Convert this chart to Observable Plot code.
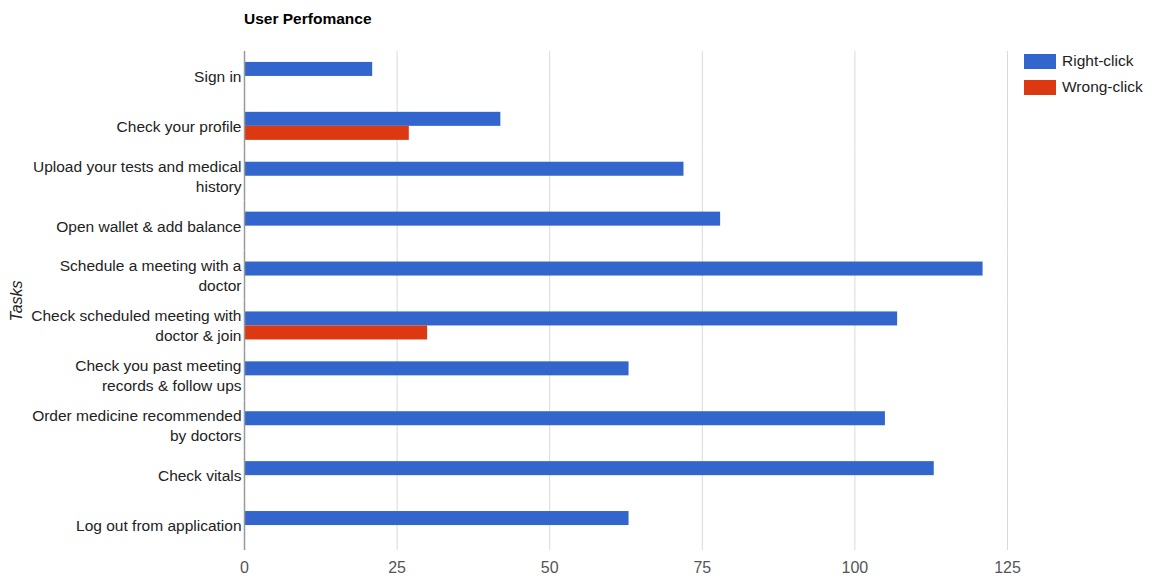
<!DOCTYPE html>
<html><head><meta charset="utf-8">
<script src="https://cdn.jsdelivr.net/npm/d3@7"></script>
<script src="https://cdn.jsdelivr.net/npm/@observablehq/plot@0.6"></script>
<style>
body{margin:0;background:#fff;font-family:"Liberation Sans",Arial,sans-serif;}
#wrap{position:relative;width:1167px;height:588px;overflow:hidden;}
#title{position:absolute;left:244px;top:10px;font-weight:bold;font-size:15.5px;color:#000;}
#ylab{position:absolute;left:17px;top:301px;transform:translate(-50%,-50%) rotate(-90deg);font-style:italic;font-size:16px;color:#222;white-space:nowrap;}
.leg{position:absolute;left:1024px;display:flex;align-items:center;font-size:15.5px;color:#222;}
.leg span{display:inline-block;width:32px;height:15px;margin-right:6px;}
</style></head><body>
<div id="wrap"><div id="chart"></div>
<div id="title">User Perfomance</div>
<div id="ylab">Tasks</div>
<div id="legend"></div>
</div>
<script>
const tasks = [
  "Sign in",
  "Check your profile",
  "Upload your tests and medical\nhistory",
  "Open wallet & add balance",
  "Schedule a meeting with a\ndoctor",
  "Check scheduled meeting with\ndoctor & join",
  "Check you past meeting\nrecords & follow ups",
  "Order medicine recommended\nby doctors",
  "Check vitals",
  "Log out from application"
];
const series = ["Right-click", "Wrong-click"];
const rightClick = [21, 42, 72, 78, 121, 107, 63, 105, 113, 63];
const wrongClick = [0, 27, 0, 0, 0, 30, 0, 0, 0, 0];
const xTicks = [0, 25, 50, 75, 100, 125];
const colors = ["#3366cc", "#dc3912"];

const rows = [];
tasks.forEach((t, i) => {
  if (rightClick[i] > 0) rows.push({task: t, series: series[0], value: rightClick[i]});
  if (wrongClick[i] > 0) rows.push({task: t, series: series[1], value: wrongClick[i]});
});

const chart = Plot.plot({
  width: 1167, height: 588,
  marginTop: 51, marginBottom: 38, marginLeft: 244, marginRight: 160,
  style: {fontFamily: '"Liberation Sans", Arial, sans-serif', background: "#fff"},
  x: {domain: [0, 125]},
  fy: {domain: tasks, padding: 0, round: false},
  y: {domain: series, paddingInner: 0, paddingOuter: 0.78, round: false, axis: null},
  color: {domain: series, range: colors},
  marks: [
    Plot.gridX(xTicks.slice(1), {stroke: "#d9d9d9", strokeOpacity: 1}),
    Plot.barX(rows, {x: "value", y: "series", fy: "task", fill: "series"}),
    Plot.ruleX([0], {stroke: "#999", strokeWidth: 1.5}),
    Plot.axisX(xTicks, {tickSize: 0, tickPadding: 11, fontSize: 16, fill: "#555", label: null}),
    Plot.axisFy({anchor: "left", tickSize: 0, tickPadding: 3, dy: -1, fontSize: 15.5, lineHeight: 1.29, fill: "#222", label: null})
  ]
});
document.getElementById("chart").appendChild(chart);

const legend = document.getElementById("legend");
series.forEach((s, i) => {
  const d = document.createElement("div");
  d.className = "leg";
  d.style.top = (52 + i * 26) + "px";
  d.innerHTML = `<span style="background:${colors[i]}"></span>${s}`;
  legend.appendChild(d);
});
</script>
</body></html>
